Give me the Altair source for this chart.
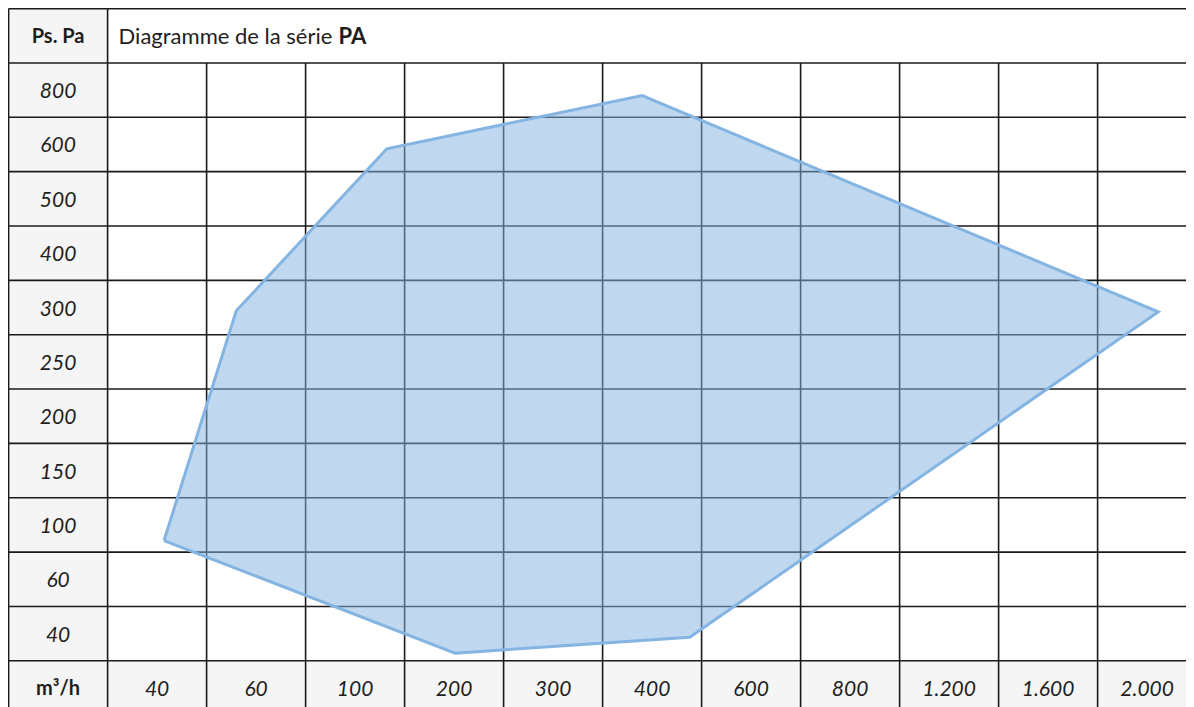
import altair as alt
import pandas as pd

# ---- data -------------------------------------------------------------
x_labels = ["40", "60", "100", "200", "300", "400", "600", "800", "1.200", "1.600", "2.000"]
x_values = [40, 60, 100, 200, 300, 400, 600, 800, 1200, 1600, 2000]
y_labels = ["800", "600", "500", "400", "300", "250", "200", "150", "100", "60", "40"]
y_values = [800, 600, 500, 400, 300, 250, 200, 150, 100, 60, 40]

# envelope of the PA series (flow m³/h, static pressure Pa), closed ring
poly_flow = [41.4, 56, 132, 390, 2045, 476, 201, 41.4]
poly_pa = [88.5, 297, 592, 780, 296, 38.7, 32.8, 88.5]

corner_label = "Ps. Pa"
unit_label = "m³/h"
title_regular = "Diagramme de la série"
title_bold = "PA"

# ---- layout -----------------------------------------------------------
W, H = 1178, 699          # visible drawing area
OFF = 0.6                 # table border position from the drawing origin
CW = 99.0                 # column width
RH = 54.35                # row height
NC = len(x_labels) + 1
NR = len(y_labels) + 2
FONT = "Lato"
TXT = "#1e1e1e"
GRID = "#1a1a1a"
GREY = "#f5f5f5"
BLUE = "#84b4e2"

xs = alt.Scale(domain=[0, NC], range=[OFF, OFF + CW * NC], nice=False, zero=False)
ys = alt.Scale(domain=[0, NR], range=[OFF, OFF + RH * NR], nice=False, zero=False)

# grey header cells
cells = pd.DataFrame({
    "x0": [0, 1], "x1": [1, NC], "y0": [0, NR - 1], "y1": [NR, NR],
})
grey = alt.Chart(cells).mark_rect(fill=GREY, clip=True).encode(
    x=alt.X("x0:Q", scale=xs, axis=None), x2="x1:Q",
    y=alt.Y("y0:Q", scale=ys, axis=None), y2="y1:Q",
)

# grid lines
hl = pd.DataFrame({"y": list(range(NR + 1)), "x0": 0, "x1": NC})
vl_rows = []
for c in range(NC + 1):
    vl_rows.append({"x": c, "y0": 0 if c in (0, 1, NC) else 1, "y1": NR})
vl = pd.DataFrame(vl_rows)
hrules = alt.Chart(hl).mark_rule(color=GRID, strokeWidth=1.6, clip=True).encode(
    x=alt.X("x0:Q", scale=xs, axis=None), x2="x1:Q",
    y=alt.Y("y:Q", scale=ys, axis=None),
)
vrules = alt.Chart(vl).mark_rule(color=GRID, strokeWidth=1.6, clip=True).encode(
    x=alt.X("x:Q", scale=xs, axis=None),
    y=alt.Y("y0:Q", scale=ys, axis=None), y2="y1:Q",
)

# labels
ylab = pd.DataFrame({"t": y_labels, "x": 0.5, "y": [i + 1.5 for i in range(len(y_labels))]})
xlab = pd.DataFrame({"t": x_labels, "x": [i + 1.5 for i in range(len(x_labels))], "y": NR - 0.5})
ital = ylab.to_dict("records") + xlab.to_dict("records")
itext = alt.Chart(pd.DataFrame(ital)).mark_text(
    font=FONT, fontSize=21, fontStyle="italic", color=TXT, align="center", baseline="middle", dy=2
).encode(x=alt.X("x:Q", scale=xs, axis=None), y=alt.Y("y:Q", scale=ys, axis=None), text="t:N")

heads = pd.DataFrame({"t": [corner_label, unit_label], "x": [0.5, 0.5], "y": [0.5, NR - 0.5]})
htext = alt.Chart(heads).mark_text(
    font=FONT, fontSize=20, fontWeight="bold", color=TXT, align="center", baseline="middle", dy=1
).encode(x=alt.X("x:Q", scale=xs, axis=None), y=alt.Y("y:Q", scale=ys, axis=None), text="t:N")

ttl = pd.DataFrame({"t": [title_regular], "x": [1], "y": [0.5]})
t1 = alt.Chart(ttl).mark_text(
    font=FONT, fontSize=22, color=TXT, align="left", baseline="middle", dx=11, dy=1
).encode(x=alt.X("x:Q", scale=xs, axis=None), y=alt.Y("y:Q", scale=ys, axis=None), text="t:N")
ttl2 = pd.DataFrame({"t": [title_bold], "x": [1], "y": [0.5]})
t2 = alt.Chart(ttl2).mark_text(
    font=FONT, fontSize=22, fontWeight="bold", color=TXT, align="left", baseline="middle", dx=231, dy=1
).encode(x=alt.X("x:Q", scale=xs, axis=None), y=alt.Y("y:Q", scale=ys, axis=None), text="t:N")

table = alt.layer(grey, hrules, vrules, itext, htext, t1, t2)

# envelope polygon on piecewise scales (column / row centres)
px = alt.Scale(domain=x_values, range=[OFF + CW * (i + 1.5) for i in range(len(x_values))],
               nice=False, zero=False)
pyv = sorted(y_values)
py = alt.Scale(domain=pyv, range=[OFF + RH * (len(y_values) - i + 0.5) for i in range(len(pyv))],
               nice=False, zero=False)
poly = pd.DataFrame({"flow": poly_flow, "pa": poly_pa, "i": list(range(len(poly_flow)))})
env = alt.Chart(poly).mark_line(
    fill=BLUE, fillOpacity=0.52, stroke=BLUE, strokeWidth=3, strokeJoin="miter", clip=True
).encode(
    x=alt.X("flow:Q", scale=px, axis=None),
    y=alt.Y("pa:Q", scale=py, axis=None),
    order=alt.Order("i:Q"),
)

chart = alt.layer(table, env).resolve_scale(x="independent", y="independent").properties(
    width=W, height=H, padding=0, background="white",
    autosize=alt.AutoSizeParams(type="none"),
).configure_view(stroke=None)

chart.save("out.html", embed_options={"renderer": "svg", "actions": False})
